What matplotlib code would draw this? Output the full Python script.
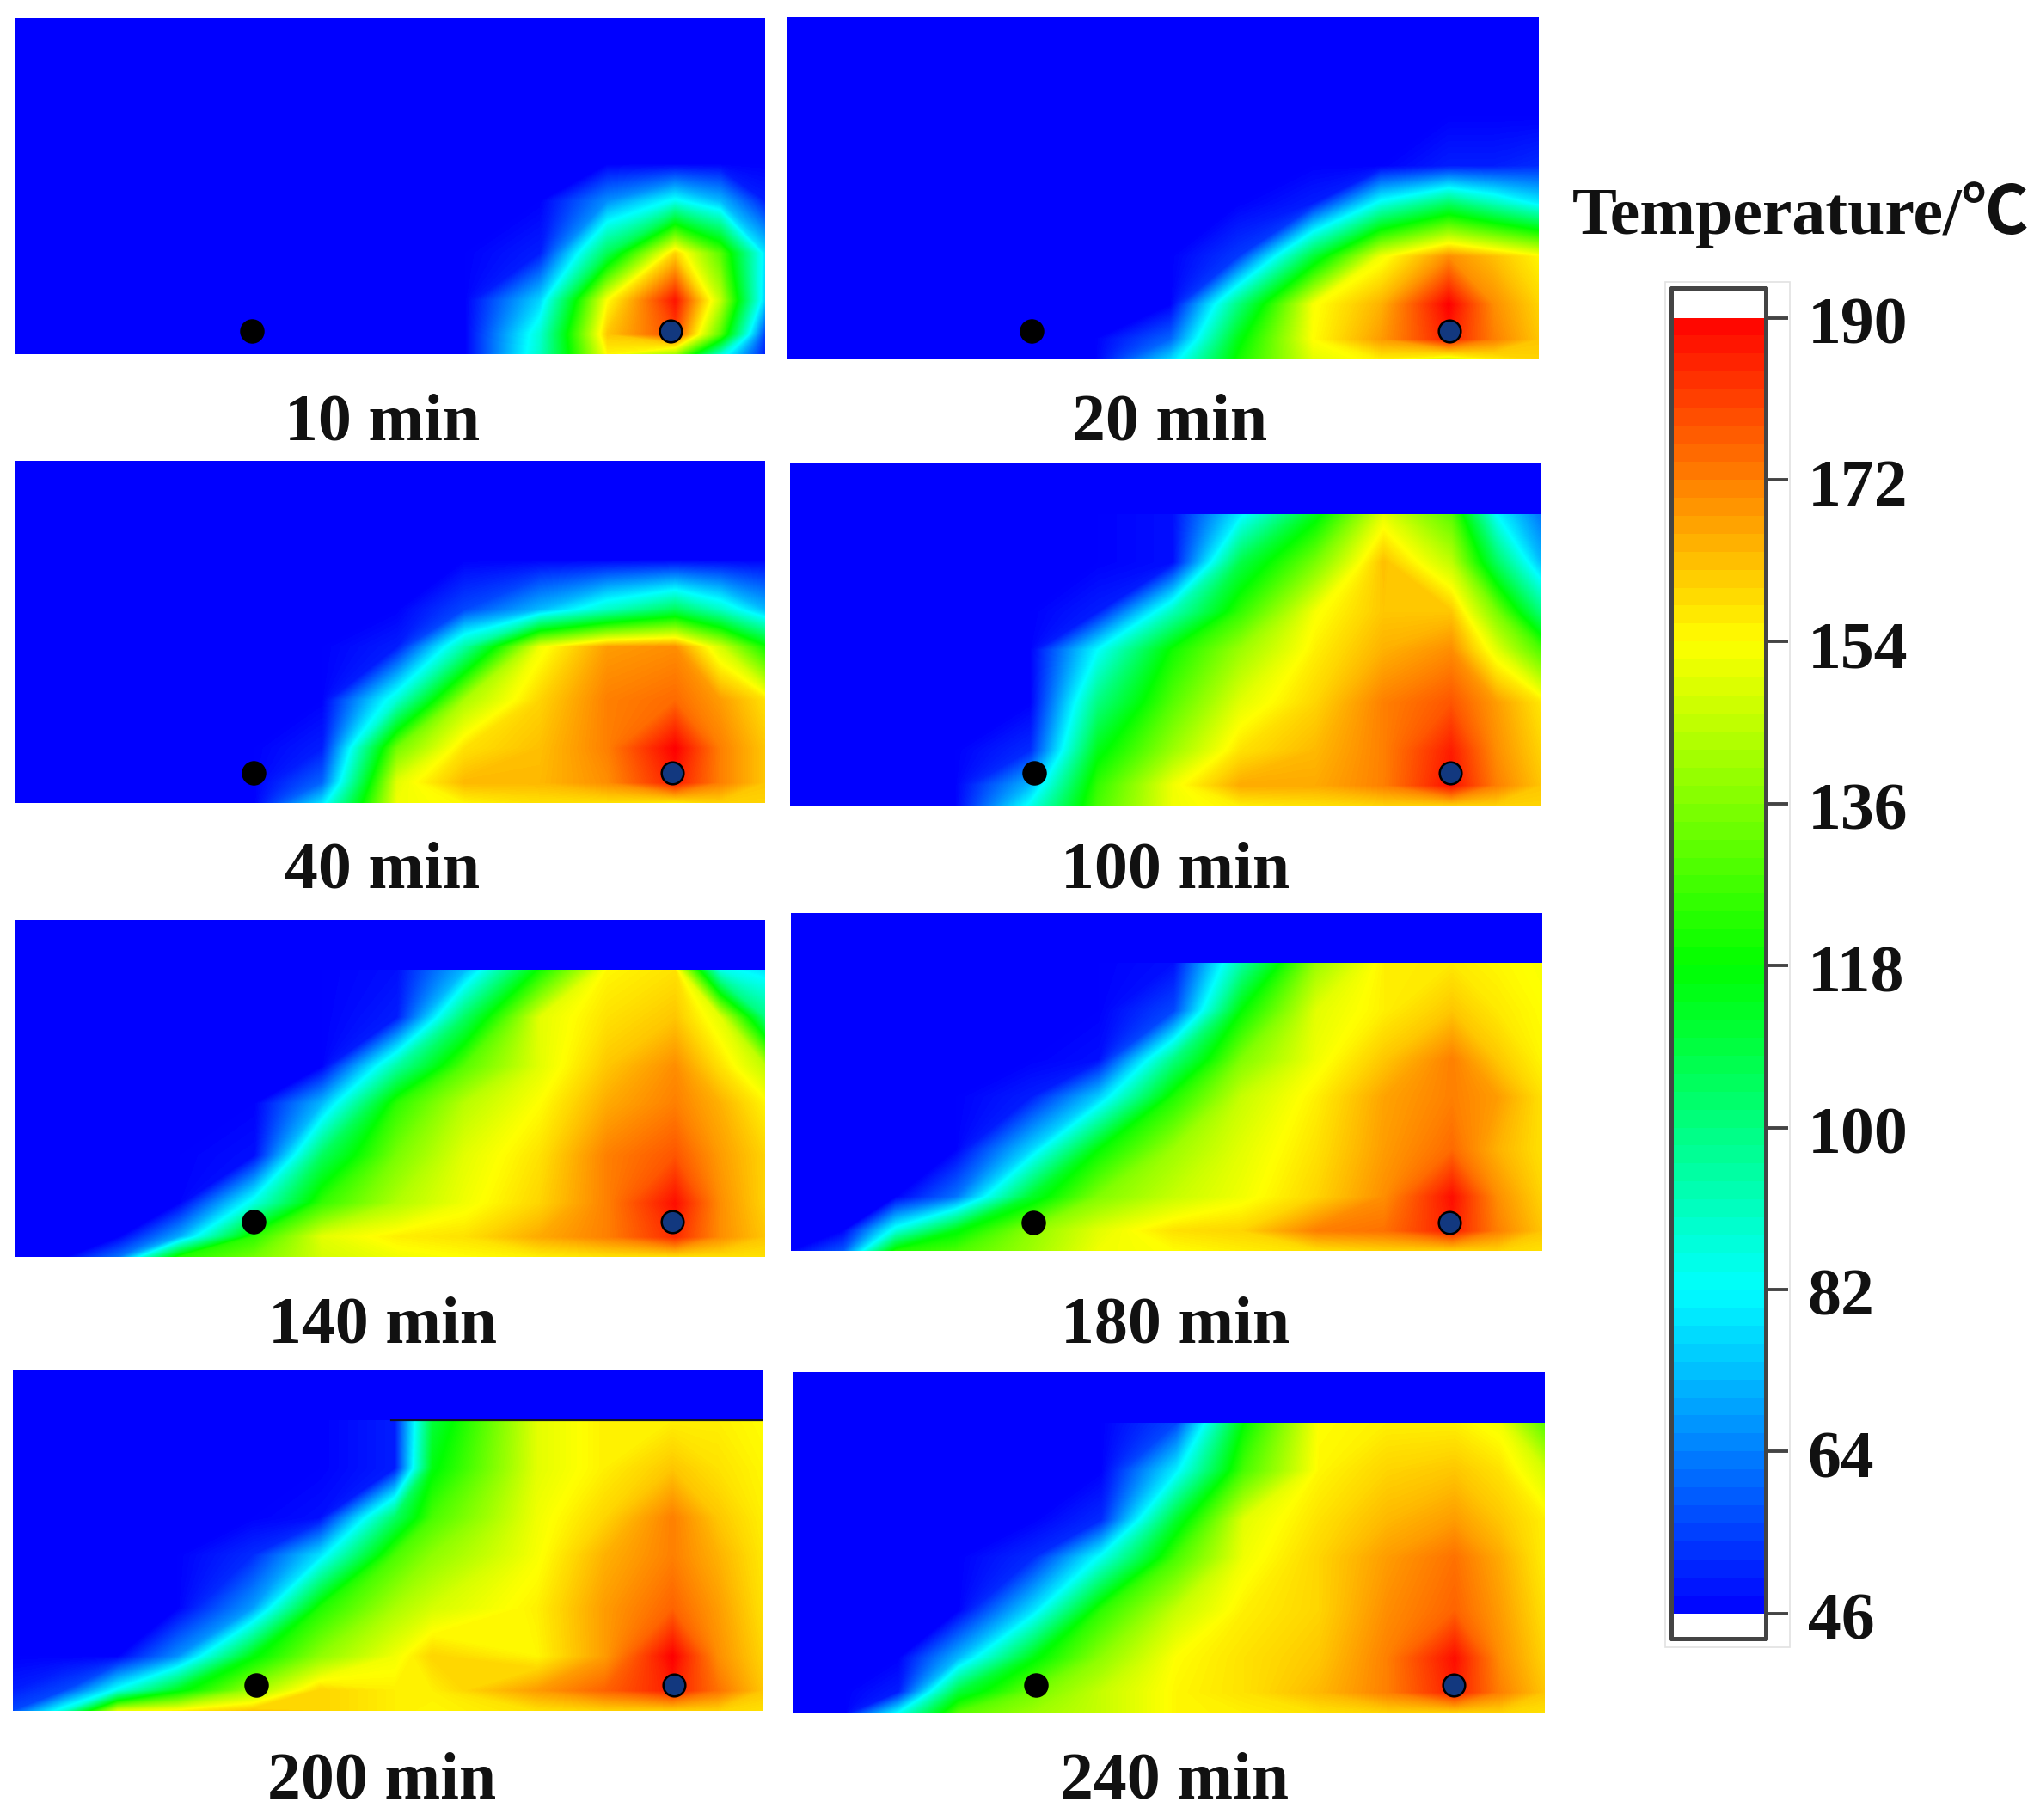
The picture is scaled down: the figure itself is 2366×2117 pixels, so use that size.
import numpy as np
import matplotlib
matplotlib.use("Agg")
import matplotlib.pyplot as plt
from matplotlib.colors import LinearSegmentedColormap, Normalize
from matplotlib.patches import Rectangle
from matplotlib.transforms import ScaledTranslation

W, H = 2366, 2117
SERIF = ['Liberation Serif', 'Noto Sans CJK SC', 'DejaVu Sans']

# mesh node positions (fraction of panel width / height)
X_NODES = [0, .07, .14, .22, .32, .41, .51, .60, .70, .79, .88, .94, 1.0]
X_NODES_200 = [0, .07, .14, .22, .32, .41, .51, .56, .70, .79, .88, .94, 1.0]
Y_NODES = [0, .06, .16, .30, .455, .565, .71, .85]

T_10 = [[46,46,46,46,46,46,46,46,90,155,140,88,50],
        [46,46,46,46,46,46,46,46,88,162,180,130,55],
        [46,46,46,46,46,46,46,46,76,154,187,145,75],
        [46,46,46,46,46,46,46,46,50,106,160,130,78],
        [46,46,46,46,46,46,46,46,46,66,84,72,50],
        [46,46,46,46,46,46,46,46,46,46,46,46,46],
        [46,46,46,46,46,46,46,46,46,46,46,46,46],
        [46,46,46,46,46,46,46,46,46,46,46,46,46]]
T_20 = [[46,46,46,46,46,46,76,120,150,156,148,156,160],
        [46,46,46,46,46,46,60,115,154,168,186,172,162],
        [46,46,46,46,46,46,46,100,153,165,190,170,160],
        [46,46,46,46,46,46,46,54,110,152,170,163,155],
        [46,46,46,46,46,46,46,46,50,85,104,92,80],
        [46,46,46,46,46,46,46,46,46,46,50,50,52],
        [46,46,46,46,46,46,46,46,46,46,46,46,46],
        [46,46,46,46,46,46,46,46,46,46,46,46,46]]
T_40 = [[46,46,46,46,46,78,152,155,158,158,156,160,160],
        [46,46,46,46,46,60,150,164,164,170,186,172,162],
        [46,46,46,46,46,50,134,158,163,172,190,172,162],
        [46,46,46,46,46,46,88,142,160,172,175,168,158],
        [46,46,46,46,46,46,50,95,152,168,170,148,120],
        [46,46,46,46,46,46,46,56,72,90,105,90,72],
        [46,46,46,46,46,46,46,46,46,46,46,46,46],
        [46,46,46,46,46,46,46,46,46,46,46,46,46]]
T_100 = [[46,46,46,46,84,128,152,156,158,160,160,160,160],
         [46,46,46,46,72,125,152,166,166,172,188,172,162],
         [46,46,46,46,52,115,140,158,164,172,186,170,160],
         [46,46,46,46,46,100,130,150,160,172,178,168,157],
         [46,46,46,46,46,82,120,140,156,165,170,150,128],
         [46,46,46,46,46,50,92,125,153,162,162,135,100],
         [46,46,46,46,46,46,48,108,135,163,145,105,72],
         [46,46,46,46,46,46,48,80,115,150,130,82,62]]
T_140 = [[46,46,62,122,134,148,152,154,156,158,158,158,158],
         [46,46,46,70,124,150,156,158,166,172,184,170,162],
         [46,46,46,46,86,125,143,152,160,172,188,170,160],
         [46,46,46,46,48,105,135,150,158,172,178,168,160],
         [46,46,46,46,46,72,124,144,154,166,172,165,155],
         [46,46,46,46,46,46,95,130,150,162,170,158,145],
         [46,46,46,46,46,46,50,104,150,158,162,150,100],
         [46,46,46,46,46,46,48,72,120,155,158,85,78]]
T_180 = [[46,58,122,128,140,152,154,156,158,160,160,160,158],
         [46,46,86,116,138,150,158,160,172,174,186,172,162],
         [46,46,46,62,112,136,146,152,160,170,188,170,160],
         [46,46,46,46,76,118,140,150,158,168,175,165,158],
         [46,46,46,46,50,75,122,146,156,167,172,168,158],
         [46,46,46,46,46,48,100,136,152,162,172,162,155],
         [46,46,46,46,46,46,56,118,150,156,162,157,154],
         [46,46,46,46,46,46,48,95,140,156,157,155,153]]
T_200 = [[56,88,150,155,162,160,156,155,158,160,160,160,158],
         [50,56,84,114,140,160,156,156,168,176,186,174,162],
         [46,46,46,66,116,138,152,160,155,168,190,170,160],
         [46,46,46,46,68,122,142,148,156,168,176,168,158],
         [46,46,46,46,52,78,128,138,153,165,172,165,157],
         [46,46,46,46,46,48,104,128,152,160,172,162,156],
         [46,46,46,46,46,46,50,116,150,156,162,158,155],
         [46,46,46,46,46,46,50,110,150,156,156,156,154]]
T_240 = [[46,46,82,130,140,146,155,156,158,160,160,160,158],
         [46,46,50,110,134,146,155,158,164,172,186,172,162],
         [46,46,46,72,116,138,154,158,162,172,188,170,160],
         [46,46,46,46,78,124,146,156,160,170,176,168,158],
         [46,46,46,46,52,84,128,152,160,168,174,166,156],
         [46,46,46,46,46,52,112,150,158,164,168,162,156],
         [46,46,46,46,46,46,80,128,155,160,162,158,148],
         [46,46,46,46,46,46,56,118,154,156,156,152,130]]

LABELS = ['10 min', '20 min', '40 min', '100 min', '140 min', '180 min', '200 min', '240 min']
FIELDS = [T_10, T_20, T_40, T_100, T_140, T_180, T_200, T_240]
# panel box in pixels: left, right, top, bottom
BOXES = [(18, 890, 21, 412), (916, 1790, 20, 418), (17, 890, 536, 934), (919, 1793, 539, 937),
         (17, 890, 1070, 1462), (920, 1794, 1062, 1455), (15, 887, 1593, 1990), (923, 1797, 1596, 1992)]
# thermocouple positions, fraction of the panel
PROBE_LEFT = [(.315, .070), (.325, .083), (.318, .087), (.325, .095),
              (.318, .104), (.323, .085), (.324, .076), (.323, .080)]
PROBE_RIGHT = [(.874, .070), (.881, .083), (.876, .087), (.879, .095),
               (.876, .104), (.877, .085), (.882, .076), (.879, .080)]
LABEL_XY = [(445, 493), (1361, 493), (445, 1014), (1367, 1014),
            (445, 1543), (1367, 1543), (444, 2073), (1366, 2073)]
BAR_TICKS = [46, 64, 82, 100, 118, 136, 154, 172, 190]

cmap = LinearSegmentedColormap.from_list('temp', ['#0000ff', '#0080ff', '#00ffff', '#00ff80', '#00ff00',
                                                  '#80ff00', '#ffff00', '#ff8000', '#ff0000'], N=1024)
norm = Normalize(46, 190)
LEVELS = np.linspace(46, 190, 289)

fig = plt.figure(figsize=(W / 100, H / 100), dpi=100, facecolor='white')


def px_axes(l, r, t, b):
    return fig.add_axes([l / W, 1 - b / H, (r - l) / W, (b - t) / H])


for i, (field, box, lab) in enumerate(zip(FIELDS, BOXES, LABELS)):
    ax = px_axes(*box)
    ax.set_facecolor('#0000ff')
    xs = X_NODES_200 if lab == '200 min' else X_NODES
    ax.contourf(xs, Y_NODES, np.array(field, float), levels=LEVELS, cmap=cmap, norm=norm, extend='both')
    if lab == '200 min':
        ax.plot([.505, 1], [.852, .852], color='#101030', lw=1.6, zorder=3)
    ax.scatter(*PROBE_LEFT[i], s=380, color='black', zorder=4, clip_on=False)
    ax.scatter(*PROBE_RIGHT[i], s=340, facecolor='#12387f', edgecolor='black', linewidth=1.8, zorder=4)
    ax.set_xlim(0, 1)
    ax.set_ylim(0, 1)
    ax.set_xticks([])
    ax.set_yticks([])
    for s in ax.spines.values():
        s.set_visible(False)
    fig.text(LABEL_XY[i][0] / W, 1 - LABEL_XY[i][1] / H, lab, family=SERIF, weight='bold', fontsize=56,
             ha='center', va='center', color='#111111')

# colour bar
fig.add_artist(Rectangle((1937 / W, 1 - 1916 / H), 145 / W, 1588 / H, transform=fig.transFigure,
                         fill=False, edgecolor='#e2e2e2', lw=1.2))
cax = px_axes(1944, 2054, 335, 1906)
edges = np.linspace(46, 190, 73)
centers = (edges[:-1] + edges[1:]) / 2
cax.pcolormesh([0, 1], edges, centers[:, None], cmap=cmap, norm=norm, shading='flat')
cax.set_xlim(0, 1)
cax.set_ylim(43.2, 193.3)
cax.set_xticks([])
cax.yaxis.tick_right()
cax.set_yticks(BAR_TICKS)
cax.set_yticklabels([str(v) for v in BAR_TICKS], family=SERIF, weight='bold', fontsize=56, color='#111111')
cax.tick_params(axis='y', length=19, width=2.8, color='#444444', pad=16)
shift = ScaledTranslation(0, -3 / 100, fig.dpi_scale_trans)
for tl in cax.get_yticklabels():
    tl.set_transform(tl.get_transform() + shift)
for s in cax.spines.values():
    s.set_linewidth(3.6)
    s.set_edgecolor('#444444')
    s.set_capstyle('round')

fig.text(1829 / W, 1 - 250 / H, 'Temperature/℃', family=SERIF, weight='bold', fontsize=56,
         ha='left', va='center', color='#111111')

fig.savefig('out.png', dpi=100, facecolor='white')
